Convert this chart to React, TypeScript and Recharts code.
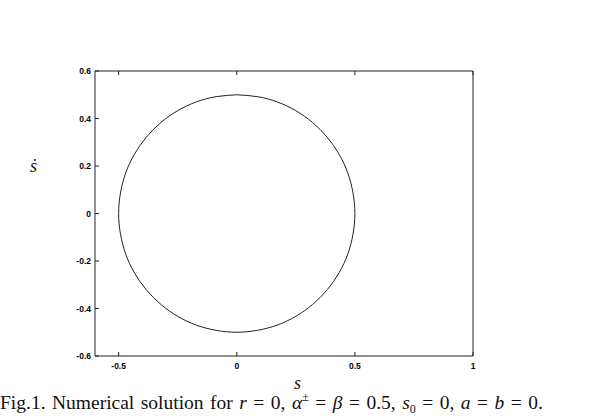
import { LineChart, Line, XAxis, YAxis } from "recharts";

// phase trajectory (s, ds/dt), one loop
const sValues = [
  0, 0.087, 0.171, 0.25, 0.321, 0.383, 0.433, 0.47, 0.492, 0.5, 0.492, 0.47,
  0.433, 0.383, 0.321, 0.25, 0.171, 0.087, 0, -0.087, -0.171, -0.25, -0.321,
  -0.383, -0.433, -0.47, -0.492, -0.5, -0.492, -0.47, -0.433, -0.383, -0.321,
  -0.25, -0.171, -0.087, 0,
];
const sDotValues = [
  0.5, 0.492, 0.47, 0.433, 0.383, 0.321, 0.25, 0.171, 0.087, 0, -0.087, -0.171,
  -0.25, -0.321, -0.383, -0.433, -0.47, -0.492, -0.5, -0.492, -0.47, -0.433,
  -0.383, -0.321, -0.25, -0.171, -0.087, 0, 0.087, 0.171, 0.25, 0.321, 0.383,
  0.433, 0.47, 0.492, 0.5,
];
const xTicks = [-0.5, 0, 0.5, 1];
const yTicks = [-0.6, -0.4, -0.2, 0, 0.2, 0.4, 0.6];

const data = sValues.map((s, i) => ({ s, sdot: sDotValues[i] }));

const INK = "#222";
const TICK = 4;
const labelStyle = {
  fontFamily: "'Liberation Sans', Arial, sans-serif",
  fontWeight: 700,
  fontSize: 8.5,
  fill: "#000",
};

// ticks point into the box on all four sides
function LeftTick(props: any) {
  const { x, y, payload } = props;
  const ax = x + 8;
  return (
    <g>
      <line x1={ax} x2={ax + TICK} y1={y} y2={y} stroke={INK} />
      <text x={ax - 4} y={y} dy={3} textAnchor="end" style={labelStyle}>
        {payload.value}
      </text>
    </g>
  );
}

function RightTick(props: any) {
  const { x, y } = props;
  const ax = x - 8;
  return <line x1={ax} x2={ax - TICK} y1={y} y2={y} stroke={INK} />;
}

function BottomTick(props: any) {
  const { x, y, payload } = props;
  const ay = y - 8;
  return (
    <g>
      <line x1={x} x2={x} y1={ay} y2={ay - TICK} stroke={INK} />
      <text x={x} y={ay + 12.5} textAnchor="middle" style={labelStyle}>
        {payload.value}
      </text>
    </g>
  );
}

function TopTick(props: any) {
  const { x, y } = props;
  const ay = y + 8;
  return <line x1={x} x2={x} y1={ay} y2={ay + TICK} stroke={INK} />;
}

const serif = "'Liberation Serif', 'DejaVu Serif', serif";

export default function App() {
  return (
    <div
      style={{
        position: "absolute",
        left: 0,
        top: 0,
        width: 598,
        height: 416,
        background: "#fff",
        overflow: "hidden",
      }}
    >
      <LineChart
        width={598}
        height={416}
        data={data}
        margin={{ top: 61, right: 115, bottom: 40, left: 65 }}
      >
        <XAxis
          xAxisId="bottom"
          dataKey="s"
          type="number"
          domain={[-0.6, 1]}
          ticks={xTicks}
          height={20}
          stroke={INK}
          tick={<BottomTick />}
          tickLine={false}
        />
        <XAxis
          xAxisId="top"
          orientation="top"
          dataKey="s"
          type="number"
          domain={[-0.6, 1]}
          ticks={xTicks}
          height={10}
          stroke={INK}
          tick={<TopTick />}
          tickLine={false}
        />
        <YAxis
          yAxisId="left"
          type="number"
          domain={[-0.6, 0.6]}
          ticks={yTicks}
          width={30}
          stroke={INK}
          tick={<LeftTick />}
          tickLine={false}
        />
        <YAxis
          yAxisId="right"
          orientation="right"
          type="number"
          domain={[-0.6, 0.6]}
          ticks={yTicks}
          width={10}
          stroke={INK}
          tick={<RightTick />}
          tickLine={false}
        />
        <Line
          xAxisId="bottom"
          yAxisId="left"
          dataKey="sdot"
          type="natural"
          stroke={INK}
          strokeWidth={1}
          dot={false}
          isAnimationActive={false}
        />
      </LineChart>
      <div
        style={{
          position: "absolute",
          left: 30,
          top: 156,
          fontFamily: serif,
          fontStyle: "italic",
          fontSize: 18,
          color: "#111",
        }}
      >
        ṡ
      </div>
      <div
        style={{
          position: "absolute",
          left: 294,
          top: 373,
          fontFamily: serif,
          fontStyle: "italic",
          fontSize: 18,
          color: "#111",
        }}
      >
        s
      </div>
      <div
        style={{
          position: "absolute",
          left: 0,
          top: 392,
          whiteSpace: "nowrap",
          lineHeight: "22px",
          fontFamily: serif,
          fontSize: 19.5,
          wordSpacing: 1.6,
          color: "#111",
        }}
      >
        Fig.1. Numerical solution for <i>r</i> = 0, <i>α</i>
        <span style={{ fontSize: 12, position: "relative", top: -8 }}>±</span>{" "}
        = <i>β</i> = 0.5, <i>s</i>
        <span style={{ fontSize: 12, position: "relative", top: 4 }}>0</span> =
        0, <i>a</i> = <i>b</i> = 0.
      </div>
    </div>
  );
}
